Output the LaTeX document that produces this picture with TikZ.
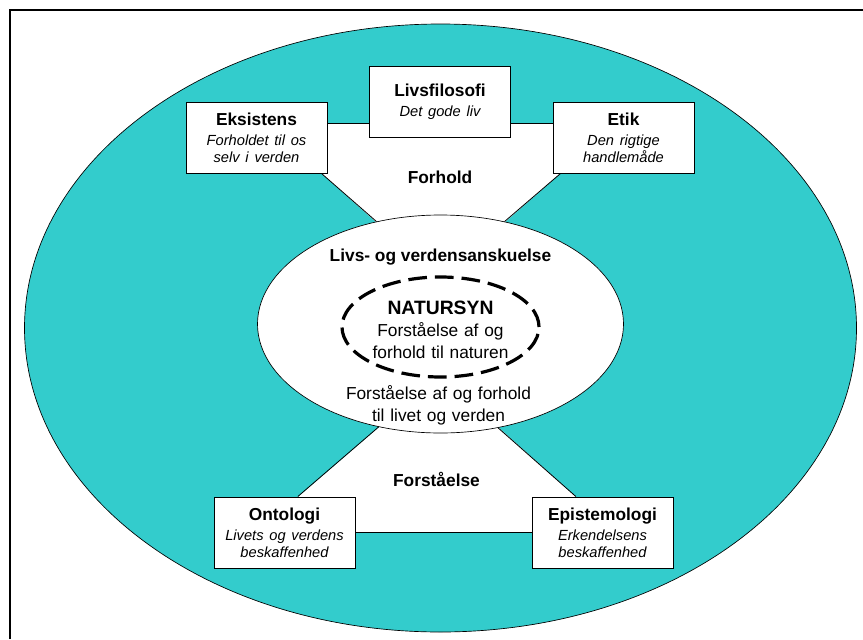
\documentclass[tikz,border=0pt]{standalone}
\usepackage{fontspec}
\setmainfont{Liberation Sans}
\usetikzlibrary{shapes.geometric}

\definecolor{ringfarve}{RGB}{51,204,204}
\newcommand{\kursiv}{\fontsize{11}{12.75}\selectfont\itshape}

\tikzset{
	ring/.style={ellipse, draw, line width=0.5pt, inner sep=0pt},
	stiplet/.style={ellipse, draw, line width=2.4pt, dash pattern=on 14pt off 6pt, inner sep=0pt},
	boks/.style={draw, fill=white, line width=0.75pt, minimum width=105.75pt, minimum height=53.25pt,
		text width=100pt, align=center, inner sep=0pt, font=\fontsize{13}{15}\selectfont},
	overskrift/.style={font=\fontsize{13}{15}\selectfont\bfseries},
	brodtekst/.style={text width=190pt, align=center, font=\fontsize{13}{16.5}\selectfont},
	forbindelse/.style={line width=0.6pt}
}

\begin{document}
\begin{tikzpicture}[x=0.75pt,y=-0.75pt]
	\useasboundingbox (0,0) rectangle (863,639);
	\draw[line width=1.5pt] (10,639) -- (10,10) -- (863,10);

	\node[ring, fill=ringfarve, minimum width=624pt, minimum height=456pt] (verden) at (440.5,328) {};
	% hvide felter
	\fill[white] (321,173) -- (327,173) -- (327,123) -- (553,123) -- (553,173) -- (561,173)
		-- (505,222) -- (440,280) -- (376,222) -- cycle;
	\fill[white] (298,497) -- (378,428) -- (440,380) -- (499,428) -- (576,497) -- (532,497)
		-- (532,532) -- (355,532) -- (355,497) -- cycle;

	\node[ring, fill=white, minimum width=274.5pt, minimum height=163.5pt] (livssyn) at (440.5,324) {};
	\node[stiplet, minimum width=147.75pt, minimum height=75pt] (natur) at (440.5,327) {};

	\node[overskrift] (forhold) at (440,177) {Forhold};
	\node[overskrift] (anskuelse) at (440.5,257) {Livs- og verdensanskuelse};
	\node[brodtekst] (natursyn) at (440.5,330) {{\fontsize{14.5}{17}\selectfont\bfseries NATURSYN}\\
		Forståelse af og\\forhold til naturen};
	\node[brodtekst] (livet) at (438.5,405) {Forståelse af og forhold\\til livet og verden};
	\node[overskrift] (forstaaelse) at (436.5,479) {Forståelse};

	\node[boks] (eks) at (256.5,137.5) {\textbf{Eksistens}\\[2pt]\kursiv Forholdet til os\\selv i verden\par};
	\node[boks] (liv) at (440,102) {\textbf{Livsfilosofi}\\[2pt]\kursiv Det gode liv\par};
	\node[boks] (etik) at (623.5,137.5) {\textbf{Etik}\\[2pt]\kursiv Den rigtige\\handlemåde\par};
	\node[boks] (onto) at (284.5,532.5) {\textbf{Ontologi}\\[2pt]\kursiv Livets og verdens\\beskaffenhed\par};
	\node[boks] (epi) at (602.5,532.5) {\textbf{Epistemologi}\\[2pt]\kursiv Erkendelsens\\beskaffenhed\par};

	\coordinate (top) at (440,123);
	\draw[forbindelse] (eks.east |- top) -- (liv.west |- top);
	\draw[forbindelse] (liv.east |- top) -- (etik.west |- top);
	\draw[forbindelse] (onto.east) -- (epi.west);
	\draw[forbindelse] ([xshift=-4.5pt]eks.south east) -- (livssyn.122);
	\draw[forbindelse] ([xshift=6pt]etik.south west) -- (livssyn.58);
	\draw[forbindelse] ([xshift=10pt]onto.north) -- (livssyn.239);
	\draw[forbindelse] ([xshift=-20pt]epi.north) -- (livssyn.299);
\end{tikzpicture}
\end{document}
